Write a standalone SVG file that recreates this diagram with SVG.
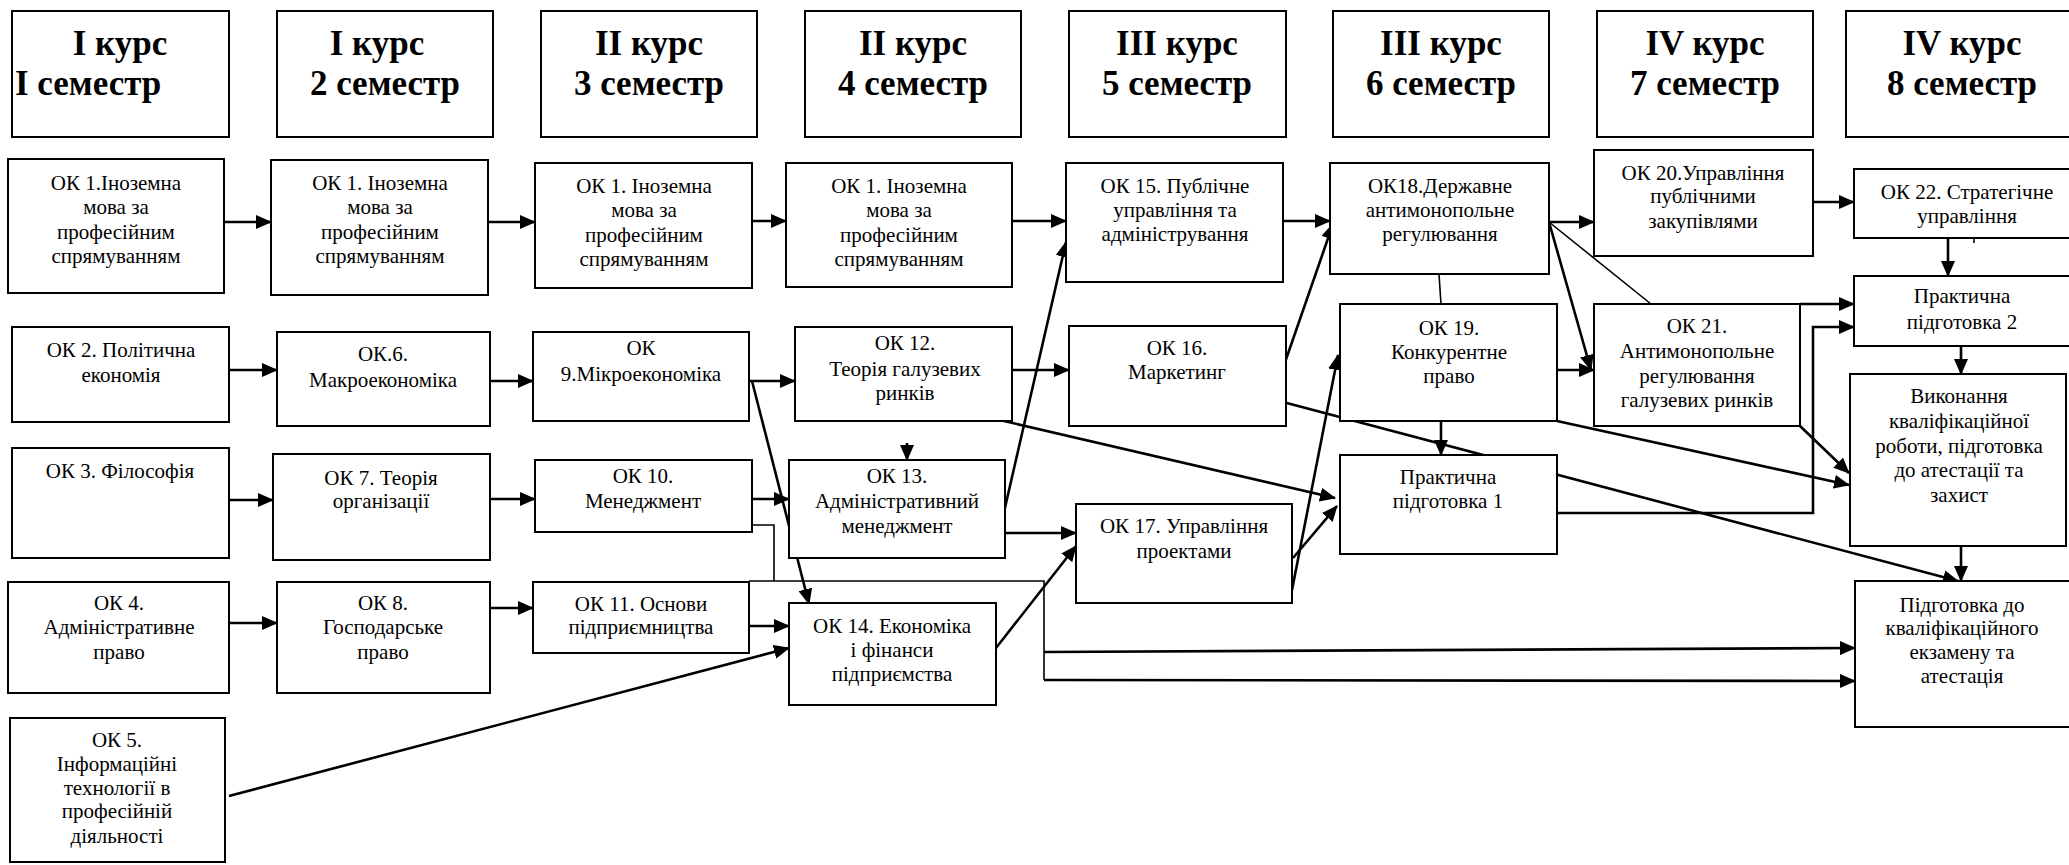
<svg xmlns="http://www.w3.org/2000/svg" width="2069" height="865" viewBox="0 0 2069 865">
<style>
.bx{fill:#fff;stroke:#000;stroke-width:2}
.t{font-size:21px;fill:#000;text-anchor:middle}
.h{font-size:35px;font-weight:bold;fill:#000;text-anchor:middle}
.ca{fill:none;stroke:#000;stroke-width:2.6;marker-end:url(#ah)}
.cn{fill:none;stroke:#000;stroke-width:1.6}
</style>
<defs>
<marker id="ah" markerUnits="userSpaceOnUse" markerWidth="16" markerHeight="14" refX="15" refY="7" orient="auto">
<path d="M0,0 L16,7 L0,14 Z" fill="#000"/>
</marker>
</defs>
<rect width="2069" height="865" fill="#fff"/>

<g id="connectors">
<path class="ca" d="M224,222 L271,222"/>
<path class="ca" d="M488,222 L535,222"/>
<path class="ca" d="M752,221 L786,221"/>
<path class="ca" d="M1012,221 L1066,221"/>
<path class="ca" d="M1283,221 L1330,221"/>
<path class="ca" d="M1549,222 L1594,222"/>
<path class="ca" d="M1813,202 L1854,202"/>
<path class="ca" d="M1948,238 L1948,276"/>
<path class="cn" d="M1974,238 L1974,243"/>
<path class="ca" d="M229,370 L277,370"/>
<path class="ca" d="M490,381 L533,381"/>
<path class="ca" d="M749,381 L795,381"/>
<path class="ca" d="M1012,370 L1069,370"/>
<path class="ca" d="M1283,368 L1333,224"/>
<path class="ca" d="M1004,512 L1066,242"/>
<path class="ca" d="M907,443 L907,460"/>
<path class="ca" d="M752,381 L809,604"/>
<path class="ca" d="M229,500 L273,500"/>
<path class="ca" d="M490,499 L535,499"/>
<path class="ca" d="M752,499 L789,499"/>
<path class="ca" d="M1005,533 L1076,533"/>
<path class="ca" d="M996,648 L1076,546"/>
<path class="ca" d="M1292,590 L1338,355"/>
<path class="ca" d="M1293,558 L1337,506"/>
<path class="ca" d="M1004,421 L1335,498"/>
<path class="cn" d="M1439,274 L1441,304"/>
<path class="ca" d="M1441,421 L1441,455"/>
<path class="ca" d="M1557,370 L1594,370"/>
<path class="ca" d="M1549,222 L1591,370"/>
<path class="cn" d="M1549,222 L1651,304"/>
<path class="ca" d="M1800,304 L1854,304"/>
<path class="ca" d="M1557,513 L1813,513 L1813,327 L1854,327"/>
<path class="ca" d="M1800,426 L1849,473"/>
<path class="ca" d="M1557,421 L1849,485"/>
<path class="ca" d="M1961,346 L1961,374"/>
<path class="ca" d="M1961,546 L1961,581"/>
<path class="ca" d="M1283,402 L1958,581"/>
<path class="ca" d="M229,623 L277,623"/>
<path class="ca" d="M490,608 L533,608"/>
<path class="ca" d="M749,626 L789,626"/>
<path class="ca" d="M229,796 L789,648"/>
<path class="cn" d="M752,525 L774,525 L774,581"/>
<path class="cn" d="M749,581 L1044,581 L1044,680"/>
<path class="ca" d="M1044,680 L1855,681"/>
<path class="ca" d="M1044,652 L1855,648"/>
</g>

<g font-family="'Liberation Serif', 'Times New Roman', Times, serif">
<g id="h1"><rect class="bx" x="12" y="11" width="217" height="126"/><text class="h" x="120" y="55">I курс</text><text class="h" x="15" y="95" text-anchor="start" style="text-anchor:start">I семестр</text></g>
<g id="h2"><rect class="bx" x="277" y="11" width="216" height="126"/><text class="h" x="377" y="55">I курс</text><text class="h" x="385" y="95">2 семестр</text></g>
<g id="h3"><rect class="bx" x="541" y="11" width="216" height="126"/><text class="h" x="649" y="55">II курс</text><text class="h" x="649" y="95">3 семестр</text></g>
<g id="h4"><rect class="bx" x="805" y="11" width="216" height="126"/><text class="h" x="913" y="55">II курс</text><text class="h" x="913" y="95">4 семестр</text></g>
<g id="h5"><rect class="bx" x="1069" y="11" width="217" height="126"/><text class="h" x="1177" y="55">III курс</text><text class="h" x="1177" y="95">5 семестр</text></g>
<g id="h6"><rect class="bx" x="1333" y="11" width="216" height="126"/><text class="h" x="1441" y="55">III курс</text><text class="h" x="1441" y="95">6 семестр</text></g>
<g id="h7"><rect class="bx" x="1597" y="11" width="216" height="126"/><text class="h" x="1705" y="55">IV курс</text><text class="h" x="1705" y="95">7 семестр</text></g>
<g id="h8"><rect class="bx" x="1846" y="11" width="233" height="126"/><text class="h" x="1962" y="55">IV курс</text><text class="h" x="1962" y="95">8 семестр</text></g>

<g id="n1a"><rect class="bx" x="8" y="159" width="216" height="134"/><text class="t" x="116" y="190">ОК 1.Іноземна</text><text class="t" x="116" y="214">мова за</text><text class="t" x="116" y="239">професійним</text><text class="t" x="116" y="263">спрямуванням</text></g>
<g id="n1b"><rect class="bx" x="271" y="160" width="217" height="135"/><text class="t" x="380" y="190">ОК 1. Іноземна</text><text class="t" x="380" y="214">мова за</text><text class="t" x="380" y="239">професійним</text><text class="t" x="380" y="263">спрямуванням</text></g>
<g id="n1c"><rect class="bx" x="535" y="163" width="217" height="125"/><text class="t" x="644" y="193">ОК 1. Іноземна</text><text class="t" x="644" y="217">мова за</text><text class="t" x="644" y="242">професійним</text><text class="t" x="644" y="266">спрямуванням</text></g>
<g id="n1d"><rect class="bx" x="786" y="163" width="226" height="124"/><text class="t" x="899" y="193">ОК 1. Іноземна</text><text class="t" x="899" y="217">мова за</text><text class="t" x="899" y="242">професійним</text><text class="t" x="899" y="266">спрямуванням</text></g>
<g id="ok15"><rect class="bx" x="1066" y="163" width="217" height="119"/><text class="t" x="1175" y="193">ОК 15. Публічне</text><text class="t" x="1175" y="217">управління та</text><text class="t" x="1175" y="241">адміністрування</text></g>
<g id="ok18"><rect class="bx" x="1330" y="163" width="219" height="111"/><text class="t" x="1440" y="193">ОК18.Державне</text><text class="t" x="1440" y="217">антимонопольне</text><text class="t" x="1440" y="241">регулювання</text></g>
<g id="ok20"><rect class="bx" x="1594" y="150" width="219" height="106"/><text class="t" x="1703" y="180">ОК 20.Управління</text><text class="t" x="1703" y="203">публічними</text><text class="t" x="1703" y="228">закупівлями</text></g>
<g id="ok22"><rect class="bx" x="1854" y="169" width="226" height="69"/><text class="t" x="1967" y="199">ОК 22. Стратегічне</text><text class="t" x="1967" y="223">управління</text></g>
<g id="prac2"><rect class="bx" x="1854" y="276" width="226" height="70"/><text class="t" x="1962" y="303">Практична</text><text class="t" x="1962" y="329">підготовка 2</text></g>
<g id="vykon"><rect class="bx" x="1850" y="374" width="216" height="172"/><text class="t" x="1959" y="403">Виконання</text><text class="t" x="1959" y="428">кваліфікаційної</text><text class="t" x="1959" y="453">роботи, підготовка</text><text class="t" x="1959" y="477">до атестації та</text><text class="t" x="1959" y="502">захист</text></g>
<g id="pidg"><rect class="bx" x="1855" y="581" width="216" height="146"/><text class="t" x="1962" y="612">Підготовка до</text><text class="t" x="1962" y="635">кваліфікаційного</text><text class="t" x="1962" y="659">екзамену та</text><text class="t" x="1962" y="683">атестація</text></g>

<g id="ok2"><rect class="bx" x="12" y="327" width="217" height="95"/><text class="t" x="121" y="357">ОК 2. Політична</text><text class="t" x="121" y="382">економія</text></g>
<g id="ok6"><rect class="bx" x="277" y="332" width="213" height="94"/><text class="t" x="383" y="361">ОК.6.</text><text class="t" x="383" y="387">Макроекономіка</text></g>
<g id="ok9"><rect class="bx" x="533" y="332" width="216" height="89"/><text class="t" x="641" y="355">ОК</text><text class="t" x="641" y="381">9.Мікроекономіка</text></g>
<g id="ok12"><rect class="bx" x="795" y="327" width="217" height="94"/><text class="t" x="905" y="350">ОК 12.</text><text class="t" x="905" y="376">Теорія галузевих</text><text class="t" x="905" y="400">ринків</text></g>
<g id="ok16"><rect class="bx" x="1069" y="326" width="217" height="100"/><text class="t" x="1177" y="355">ОК 16.</text><text class="t" x="1177" y="379">Маркетинг</text></g>
<g id="ok19"><rect class="bx" x="1340" y="304" width="217" height="117"/><text class="t" x="1449" y="335">ОК 19.</text><text class="t" x="1449" y="359">Конкурентне</text><text class="t" x="1449" y="383">право</text></g>
<g id="ok21"><rect class="bx" x="1594" y="304" width="206" height="122"/><text class="t" x="1697" y="333">ОК 21.</text><text class="t" x="1697" y="358">Антимонопольне</text><text class="t" x="1697" y="383">регулювання</text><text class="t" x="1697" y="407">галузевих ринків</text></g>

<g id="ok3"><rect class="bx" x="12" y="448" width="217" height="110"/><text class="t" x="120" y="478">ОК 3. Філософія</text></g>
<g id="ok7"><rect class="bx" x="273" y="454" width="217" height="106"/><text class="t" x="381" y="485">ОК 7. Теорія</text><text class="t" x="381" y="508">організації</text></g>
<g id="ok10"><rect class="bx" x="535" y="460" width="217" height="72"/><text class="t" x="643" y="483">ОК 10.</text><text class="t" x="643" y="508">Менеджмент</text></g>
<g id="ok13"><rect class="bx" x="789" y="460" width="216" height="98"/><text class="t" x="897" y="483">ОК 13.</text><text class="t" x="897" y="508">Адміністративний</text><text class="t" x="897" y="533">менеджмент</text></g>
<g id="ok17"><rect class="bx" x="1076" y="504" width="216" height="99"/><text class="t" x="1184" y="533">ОК 17. Управління</text><text class="t" x="1184" y="558">проектами</text></g>
<g id="prac1"><rect class="bx" x="1340" y="455" width="217" height="99"/><text class="t" x="1448" y="484">Практична</text><text class="t" x="1448" y="508">підготовка 1</text></g>

<g id="ok4"><rect class="bx" x="8" y="582" width="221" height="111"/><text class="t" x="119" y="610">ОК 4.</text><text class="t" x="119" y="634">Адміністративне</text><text class="t" x="119" y="659">право</text></g>
<g id="ok8"><rect class="bx" x="277" y="582" width="213" height="111"/><text class="t" x="383" y="610">ОК 8.</text><text class="t" x="383" y="634">Господарське</text><text class="t" x="383" y="659">право</text></g>
<g id="ok11"><rect class="bx" x="533" y="582" width="216" height="71"/><text class="t" x="641" y="611">ОК 11. Основи</text><text class="t" x="641" y="634">підприємництва</text></g>
<g id="ok14"><rect class="bx" x="789" y="603" width="207" height="102"/><text class="t" x="892" y="633">ОК 14. Економіка</text><text class="t" x="892" y="657">і фінанси</text><text class="t" x="892" y="681">підприємства</text></g>
<g id="ok5"><rect class="bx" x="10" y="718" width="215" height="144"/><text class="t" x="117" y="747">ОК 5.</text><text class="t" x="117" y="771">Інформаційні</text><text class="t" x="117" y="795">технології в</text><text class="t" x="117" y="818">професійній</text><text class="t" x="117" y="843">діяльності</text></g>
</g>
</svg>
